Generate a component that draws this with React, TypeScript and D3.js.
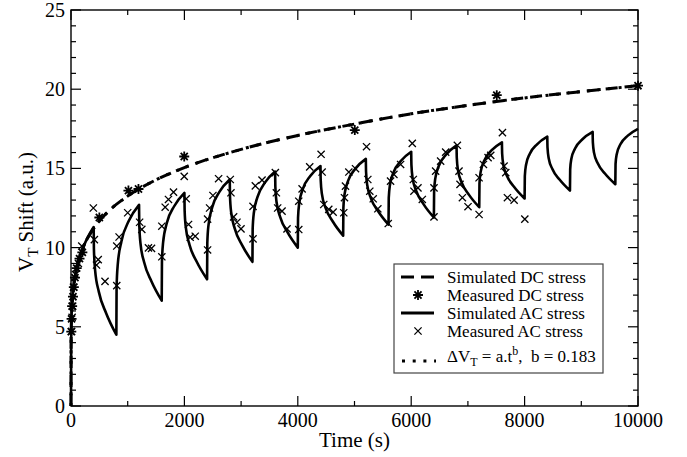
import React from "react";
import * as d3 from "d3";

// tick labels
const xTicks = [0, 2000, 4000, 6000, 8000, 10000];
const yTicks = [0, 5, 10, 15, 20, 25];

// simulated DC stress curve and the power-law fit
const dcTime = [0, 1, 3, 8, 20, 50, 100, 200, 400, 700, 1000, 1500, 2000, 3000, 4000, 5000, 6000, 7000, 8000, 9000, 10000];
const dcSimV = [0, 3.74, 4.58, 5.48, 6.48, 7.66, 8.7, 9.87, 11.2, 12.42, 13.25, 14.28, 15.05, 16.2, 17.08, 17.8, 18.45, 18.98, 19.45, 19.85, 20.22];
const dcFitV = [0, 3.74, 4.58, 5.48, 6.48, 7.66, 8.7, 9.87, 11.2, 12.42, 13.25, 14.28, 15.05, 16.2, 17.08, 17.8, 18.45, 18.98, 19.45, 19.85, 20.22];

// measured DC stress (*)
const dcMeasT = [5, 10, 20, 35, 50, 70, 100, 150, 200, 500, 1013, 1190, 1997, 5005, 7509, 10000];
const dcMeasV = [4.7, 5.5, 6.3, 6.9, 7.5, 8.1, 8.7, 9.3, 9.7, 11.9, 13.6, 13.7, 15.75, 17.42, 19.62, 20.22];

// measured AC stress (x)
const acMeasT = [10, 20, 30, 45, 80, 130, 190, 394, 412, 480, 450, 600, 807, 807, 848, 1000, 1210, 1249, 1366, 1420, 1602, 1602, 1661, 1719, 1808,
  1997, 2032, 2073, 2102, 2191, 2409, 2409, 2444, 2503, 2603, 2809, 2821, 2868, 2927, 2998, 3210, 3210, 3251, 3369, 3604, 3622, 3645, 3722, 3810,
  4017, 4017, 4076, 4210, 4411, 4429, 4458, 4546, 4623, 4811, 4823, 4841, 4900, 5018, 5212, 5235, 5270, 5330, 5412, 5595, 5636, 5695, 5813,
  6019, 6037, 6048, 6119, 6196, 6402, 6402, 6431, 6519, 6608, 6814, 6843, 6861, 6903, 7002, 7197, 7197, 7274, 7356, 7403, 7609, 7638, 7668, 7697, 7815, 8004];
const acMeasV = [4.7, 5.6, 6.3, 7.5, 8.3, 9.0, 10.1, 12.5, 10.5, 9.24, 8.9, 7.87, 7.6, 10.1, 10.67, 12.2, 11.6, 11.15, 9.98, 9.95, 9.42, 11.35, 12.55, 13.04, 13.5,
  14.5, 13.08, 11.46, 10.65, 10.72, 9.85, 11.8, 12.5, 13.29, 14.35, 14.3, 13.46, 11.94, 11.6, 11.18, 10.55, 12.6, 13.9, 14.26, 14.73, 13.46, 12.5, 12.3, 11.18,
  11.14, 12.93, 13.71, 15.1, 15.89, 14.77, 12.72, 12.41, 12.24, 12.2, 13.15, 13.88, 14.77, 14.98, 16.37, 14.3, 13.56, 13.08, 12.45, 11.52, 14.2, 14.62, 15.25,
  16.58, 14.3, 13.56, 13.77, 13.04, 11.94, 13.77, 14.83, 15.46, 16.03, 16.46, 14.83, 13.99, 13.15, 12.58, 12.09, 14.41, 15.25, 15.68, 15.82, 17.26, 15.15, 14.73, 13.15, 13.0, 11.8];

// simulated AC stress: stress (rise) and recovery (fall) phases
const acOffsets = [0, 4, 25, 90, 220, 400];
const acRiseStart = [0, 800, 1600, 2400, 3200, 4000, 4800, 5600, 6400, 7200, 8000, 8800, 9600];
const acRiseV = [
  [0, 4.83, 6.75, 8.53, 10.04, 11.3],
  [4.5, 7.48, 8.95, 10.4, 11.69, 12.7],
  [6.65, 9.12, 10.34, 11.55, 12.61, 13.45],
  [8.0, 10.29, 11.42, 12.54, 13.53, 14.3],
  [9.1, 11.17, 12.2, 13.2, 14.1, 14.8],
  [10.0, 11.87, 12.8, 13.71, 14.52, 15.15],
  [10.75, 12.51, 13.38, 14.24, 15.0, 15.6],
  [11.45, 13.12, 13.95, 14.76, 15.48, 16.05],
  [11.9, 13.55, 14.37, 15.18, 15.89, 16.45],
  [12.55, 14.04, 14.78, 15.5, 16.15, 16.65],
  [13.1, 14.52, 15.22, 15.91, 16.52, 17.0],
  [13.6, 14.94, 15.61, 16.26, 16.84, 17.3],
  [14.0, 15.27, 15.9, 16.52, 17.07, 17.5],
];
const acFallStart = [400, 1200, 2000, 2800, 3600, 4400, 5200, 6000, 6800, 7600, 8400, 9200];
const acFallV = [
  [11.3, 9.94, 8.58, 7.22, 5.86, 4.5],
  [12.7, 11.49, 10.28, 9.07, 7.86, 6.65],
  [13.45, 12.36, 11.27, 10.18, 9.09, 8.0],
  [14.3, 13.26, 12.22, 11.18, 10.14, 9.1],
  [14.8, 13.84, 12.88, 11.92, 10.96, 10.0],
  [15.15, 14.27, 13.39, 12.51, 11.63, 10.75],
  [15.6, 14.77, 13.94, 13.11, 12.28, 11.45],
  [16.05, 15.22, 14.39, 13.56, 12.73, 11.9],
  [16.45, 15.67, 14.89, 14.11, 13.33, 12.55],
  [16.65, 15.94, 15.23, 14.52, 13.81, 13.1],
  [17.0, 16.32, 15.64, 14.96, 14.28, 13.6],
  [17.3, 16.64, 15.98, 15.32, 14.66, 14.0],
];

const W = 687;
const H = 457;
const FONT = "'Liberation Serif', 'Times New Roman', serif";

const Star = ({ cx, cy, r = 5 }) => {
  const d = [0, 45, 90, 135]
    .map((a) => {
      const rad = (a * Math.PI) / 180;
      const dx = r * Math.cos(rad);
      const dy = r * Math.sin(rad);
      return `M${cx - dx},${cy - dy}L${cx + dx},${cy + dy}`;
    })
    .join("");
  return <path d={d} stroke="#000" strokeWidth={1.8} fill="none" />;
};

const Cross = ({ cx, cy, r = 3.6 }) => (
  <path
    d={`M${cx - r},${cy - r}L${cx + r},${cy + r}M${cx - r},${cy + r}L${cx + r},${cy - r}`}
    stroke="#000"
    strokeWidth={1.3}
    fill="none"
  />
);

export default function App() {
  const left = 71, right = 638, top = 10, bottom = 406;
  const x = d3.scaleLinear().domain([0, 10000]).range([left, right]);
  const y = d3.scaleLinear().domain([0, 25]).range([bottom, top]);

  const line = d3
    .line<[number, number]>()
    .x((d) => x(d[0]))
    .y((d) => y(d[1]))
    .curve(d3.curveMonotoneX);

  const dcSimPath = line(dcTime.map((t, i) => [t, dcSimV[i]]));
  const dcFitPath = line(dcTime.map((t, i) => [t, dcFitV[i]]));

  // stitch the stress / recovery phases into one path
  const segs: [number, number][][] = [];
  acRiseStart.forEach((t0, i) => {
    segs.push(acOffsets.map((o, j) => [t0 + o, acRiseV[i][j]]));
    if (i < acFallStart.length) {
      segs.push(acOffsets.map((o, j) => [acFallStart[i] + o, acFallV[i][j]]));
    }
  });
  const acPath = segs
    .map((s, i) => {
      const p = line(s) || "";
      return i === 0 ? p : p.replace(/^M/, "L");
    })
    .join("");

  const xMinor = d3.range(1000, 10000, 2000);
  const yMinor = d3.range(0, 26, 1).filter((v) => v % 5 !== 0);

  const tickW = 1.2;

  return (
    <div style={{ position: "absolute", left: 0, top: 0 }}>
      <svg width={W} height={H} style={{ display: "block", background: "#fff" }} fontFamily={FONT}>
        {/* data */}
        <path d={acPath} fill="none" stroke="#000" strokeWidth={2.6} strokeLinejoin="round" />
        <path d={dcSimPath || ""} fill="none" stroke="#000" strokeWidth={3} strokeDasharray="12,7" />
        <path d={dcFitPath || ""} fill="none" stroke="#000" strokeWidth={3} strokeDasharray="3,7.5" />
        {acMeasT.map((t, i) => (
          <Cross key={"ac" + i} cx={x(t)} cy={y(acMeasV[i])} />
        ))}
        {dcMeasT.map((t, i) => (
          <Star key={"dc" + i} cx={x(t)} cy={y(dcMeasV[i])} />
        ))}

        {/* frame */}
        <rect x={left} y={top} width={right - left} height={bottom - top} fill="none" stroke="#000" strokeWidth={1.4} />

        {/* x ticks */}
        {xTicks.map((t) => (
          <g key={"xt" + t}>
            <line x1={x(t)} x2={x(t)} y1={bottom} y2={bottom - 10} stroke="#000" strokeWidth={tickW} />
            <line x1={x(t)} x2={x(t)} y1={top} y2={top + 10} stroke="#000" strokeWidth={tickW} />
            <text x={x(t)} y={427} textAnchor="middle" fontSize={20}>
              {t}
            </text>
          </g>
        ))}
        {xMinor.map((t) => (
          <g key={"xm" + t}>
            <line x1={x(t)} x2={x(t)} y1={bottom} y2={bottom - 5} stroke="#000" strokeWidth={tickW} />
            <line x1={x(t)} x2={x(t)} y1={top} y2={top + 5} stroke="#000" strokeWidth={tickW} />
          </g>
        ))}

        {/* y ticks */}
        {yTicks.map((v) => (
          <g key={"yt" + v}>
            <line x1={left} x2={left + 10} y1={y(v)} y2={y(v)} stroke="#000" strokeWidth={tickW} />
            <line x1={right} x2={right - 10} y1={y(v)} y2={y(v)} stroke="#000" strokeWidth={tickW} />
            <text x={65} y={y(v)} dy="0.35em" textAnchor="end" fontSize={20}>
              {v}
            </text>
          </g>
        ))}
        {yMinor.map((v) => (
          <g key={"ym" + v}>
            <line x1={left} x2={left + 5} y1={y(v)} y2={y(v)} stroke="#000" strokeWidth={tickW} />
            <line x1={right} x2={right - 5} y1={y(v)} y2={y(v)} stroke="#000" strokeWidth={tickW} />
          </g>
        ))}

        {/* axis titles */}
        <text x={(left + right) / 2} y={447} textAnchor="middle" fontSize={21}>
          Time (s)
        </text>
        <text transform={`translate(33,${(top + bottom) / 2 + 4}) rotate(-90)`} textAnchor="middle" fontSize={21}>
          V<tspan fontSize={15} dy={5}>T</tspan>
          <tspan dy={-5}> Shift (a.u.)</tspan>
        </text>

        {/* legend */}
        <g>
          <rect x={394} y={264} width={209} height={109} fill="#fff" stroke="#444" strokeWidth={1.2} />
          <line x1={401} x2={434} y1={277} y2={277} stroke="#000" strokeWidth={3} strokeDasharray="13,7" />
          <Star cx={418} cy={295} />
          <line x1={401} x2={434} y1={313} y2={313} stroke="#000" strokeWidth={3} />
          <Cross cx={418} cy={331} />
          <line x1={402} x2={436} y1={361} y2={361} stroke="#000" strokeWidth={3} strokeDasharray="3,7.7" />
          <g fontSize={17}>
            <text x={447} y={277} dy="0.35em">Simulated DC stress</text>
            <text x={447} y={295} dy="0.35em">Measured DC stress</text>
            <text x={447} y={313} dy="0.35em">Simulated AC stress</text>
            <text x={447} y={331} dy="0.35em">Measured AC stress</text>
            <text x={447} y={362} style={{ whiteSpace: "pre" }}>
              ΔV<tspan fontSize={12} dy={4}>T</tspan>
              <tspan dy={-4}> = a.t</tspan>
              <tspan fontSize={12} dy={-7}>b</tspan>
              <tspan dy={7}>,  b = 0.183</tspan>
            </text>
          </g>
        </g>
      </svg>
    </div>
  );
}
